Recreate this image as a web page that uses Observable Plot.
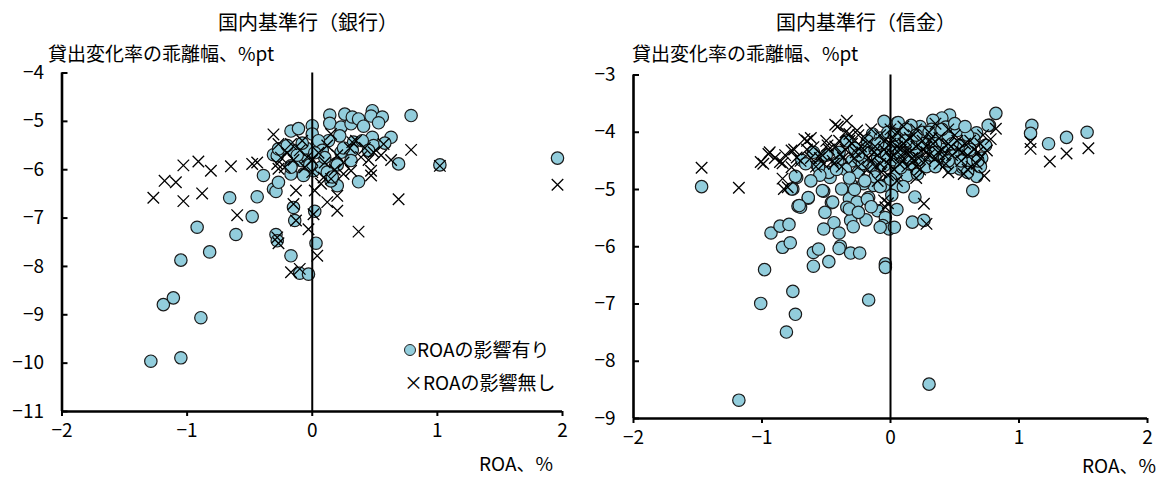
<!DOCTYPE html>
<html><head><meta charset="utf-8">
<script src="https://cdn.jsdelivr.net/npm/d3@7"></script>
<script src="https://cdn.jsdelivr.net/npm/@observablehq/plot@0.6"></script>
<style>
body{margin:0;background:#fff;}
#wrap{position:relative;width:1159px;height:477px;font-family:"Noto Sans CJK JP",sans-serif;color:#000;overflow:hidden;}
.abs{position:absolute;white-space:nowrap;line-height:1;}
.panel{position:absolute;top:0;}
.lg{display:inline-block;width:10px;height:10px;border-radius:50%;background:#92CDDC;border:1px solid #222;vertical-align:middle;margin-right:1px;position:relative;top:-2px;}
</style></head>
<body><div id="wrap"></div>
<script>
// ---- data ----
const titles = ["国内基準行（銀行）", "国内基準行（信金）"];
const yLabel = "貸出変化率の乖離幅、%pt";
const xLabel = "ROA、%";
const seriesNames = ["ROAの影響有り", "ROAの影響無し"];
const xTicks = [-2, -1, 0, 1, 2];
const yTicksBank = [-11, -10, -9, -8, -7, -6, -5, -4];
const yTicksShinkin = [-9, -8, -7, -6, -5, -4, -3];

// 国内基準行（銀行）: ROAの影響有り [ROA, 乖離幅]
const bankWith = [
[-1.29,-9.96],[-1.05,-9.89],[-0.89,-9.06],[-1.19,-8.79],[-1.11,-8.65],[-1.05,-7.87],[-0.92,-7.19],[-0.82,-7.70],[-0.66,-6.58],[-0.61,-7.34],[-0.48,-6.97],[-0.44,-6.56],[-0.39,-6.12],[-0.31,-6.40],[-0.29,-6.45],[-0.27,-6.26],[-0.29,-7.34],[-0.28,-7.47],[-0.17,-7.78],[-0.15,-6.78],[-0.14,-7.05],[-0.10,-8.14],[-0.03,-8.16],[0.02,-6.86],[0.03,-7.52],
[-0.17,-5.20],[-0.11,-5.15],[0.00,-5.09],[0.00,-5.26],[-0.31,-5.69],[-0.25,-5.60],[-0.28,-5.71],[-0.27,-5.57],[-0.17,-5.92],[-0.17,-6.09],[-0.09,-5.81],[-0.04,-5.74],[-0.07,-6.09],[0.01,-6.02],[0.04,-5.47],[-0.15,-5.60],[-0.07,-6.12],[-0.17,-5.95],
[0.14,-4.87],[0.26,-4.85],[0.14,-5.04],[0.23,-5.12],[0.31,-5.05],[0.32,-4.91],[0.37,-4.95],[0.41,-5.10],[0.48,-4.78],[0.47,-4.89],[0.56,-4.91],[0.53,-5.03],[0.79,-4.88],[0.63,-5.33],[0.48,-5.33],[0.49,-5.50],[0.33,-5.43],[0.32,-5.60],[0.23,-5.64],[0.13,-5.40],[0.05,-5.40],[0.69,-5.88],[1.02,-5.90],[1.96,-5.76],[0.37,-6.25],[0.20,-6.33],[0.15,-6.23],[0.07,-5.95],[0.31,-5.81],[0.19,-5.88],
[-0.05,-5.55],[0.08,-5.60],[0.10,-5.75],[-0.12,-5.70],[0.20,-5.90],[0.12,-6.05],[-0.02,-5.90],[0.25,-5.55],[-0.20,-5.50],[0.16,-6.15],[0.02,-5.65],[-0.08,-5.45],[0.22,-5.30],[0.40,-5.40],[0.45,-5.60],[0.58,-5.45]
];
// 国内基準行（銀行）: ROAの影響無し
const bankWithout = [
[-1.27,-6.58],[-1.18,-6.23],[-1.09,-6.26],[-1.03,-5.91],[-0.91,-5.83],[-0.81,-6.02],[-1.03,-6.65],[-0.88,-6.49],[-0.65,-5.93],[-0.48,-5.88],[-0.44,-5.85],[-0.60,-6.94],[-0.31,-5.27],[-0.27,-5.47],[-0.13,-6.43],[-0.15,-6.71],[-0.13,-7.05],[-0.28,-7.40],[-0.27,-7.52],[-0.17,-8.12],[-0.10,-8.05],[-0.03,-7.23],[0.02,-6.43],[-0.27,-5.98],[0.01,-6.92],[0.04,-7.78],
[0.12,-6.67],[0.20,-6.85],[0.20,-6.54],[0.37,-7.28],[0.69,-6.61],[0.79,-5.59],[0.63,-5.80],[0.47,-6.02],[0.47,-6.12],[1.02,-5.92],[1.96,-6.31],[0.57,-5.47],[0.49,-5.64],[0.39,-5.74],[0.31,-6.02],[0.25,-6.09],[0.15,-6.19],[0.09,-6.16],[0.07,-6.29],[0.15,-5.26],[-0.17,-5.47],[-0.28,-5.88],[-0.04,-5.74],[0.32,-5.43],
[-0.20,-5.65],[-0.10,-5.60],[0.00,-5.80],[0.05,-5.65],[-0.06,-5.95],[0.10,-5.85],[-0.15,-5.80],[0.20,-5.70],[0.30,-5.55],[0.35,-5.40],[0.42,-5.55],[-0.25,-5.75],[0.12,-5.50],[-0.08,-5.40],[0.00,-6.05],[0.25,-5.85],[-0.22,-5.95],[0.18,-6.00],[0.45,-5.80],[0.55,-5.70]
];
// 国内基準行（信金）: ROAの影響有り
const shinkinWith = [
[-1.47,-4.95],[-1.18,-8.68],[0.30,-8.40],[-0.81,-7.49],[-0.74,-7.18],[-1.01,-6.99],[-0.76,-6.78],[-0.98,-6.40],[-0.17,-6.93],
[-0.04,-6.30],[-0.04,-6.36],[-0.93,-5.76],[-0.86,-5.64],[-0.79,-5.61],[-0.84,-6.01],[-0.78,-5.93],[-0.72,-5.29],[-0.70,-5.31],[-0.64,-5.15],
[-0.76,-4.99],[-0.73,-4.79],[-0.52,-5.03],[-0.46,-5.23],[-0.51,-5.40],[-0.44,-5.58],[-0.52,-5.69],[-0.40,-5.76],[-0.39,-5.99],[-0.40,-6.03],
[-0.60,-6.10],[-0.56,-6.04],[-0.48,-6.26],[-0.60,-6.34],[-0.31,-6.11],[-0.24,-6.11],[-0.31,-5.54],[-0.29,-5.65],[-0.19,-5.53],
[-0.32,-5.16],[-0.34,-5.31],[-0.26,-5.22],[-0.31,-4.90],[-0.47,-4.79],[-0.38,-4.99],[-0.17,-5.14],[-0.05,-4.93],[-0.10,-5.37],
[-0.04,-5.49],[-0.06,-5.63],[-0.01,-5.69],[0.03,-5.66],[-0.08,-5.66],[0.05,-4.93],[0.01,-5.10],[-0.05,-3.81],[0.05,-3.84],
[-0.34,-4.15],[-0.14,-4.03],[-0.69,-4.49],[-0.57,-4.58],[-0.48,-4.70],[-0.66,-4.55],[-0.56,-4.61],[-0.41,-4.52],[-0.22,-4.47],
[0.17,-5.57],[0.26,-5.54],[0.19,-5.13],[0.64,-5.02],[-0.13,-4.93],[-0.21,-4.90],[-0.32,-5.34],[-0.18,-5.17],[-0.45,-5.22],
[-0.53,-5.02],[-0.64,-5.14],[-0.71,-5.28],[-0.77,-4.99],[-0.74,-4.77],
[0.82,-3.67],[1.10,-3.88],[1.09,-4.02],[1.23,-4.20],[1.37,-4.09],[1.53,-4.00],[0.77,-3.88],[0.67,-4.01],[0.65,-4.12],[0.71,-4.45],[0.67,-4.77],[0.54,-4.64],[0.56,-4.61],
[0.46,-3.70],[0.40,-3.75],[0.33,-3.79],[0.23,-3.90],[0.16,-3.88],[0.06,-3.83],[0.52,-3.97],[0.36,-4.06],[0.43,-3.91],[0.54,-4.23],[0.62,-4.52],[0.74,-4.23],[0.76,-3.88],
[0.13,-4.26],[0.23,-4.12],[0.29,-4.52],[0.34,-4.41],[-0.05,-4.58],[0.05,-4.70],[0.13,-4.76],[0.21,-4.73],
[0.00,-4.30],[0.10,-4.40],[0.20,-4.35],[0.30,-4.25],[-0.10,-4.45],[-0.20,-4.30],[0.15,-4.55],[0.40,-4.30],[0.05,-4.15],[-0.05,-4.25],[0.25,-4.00],[0.35,-4.20],[0.45,-4.10],[0.50,-4.40],[-0.15,-4.60],[-0.25,-4.70],[0.10,-4.05],[0.18,-4.20],[-0.30,-4.50],[0.28,-4.60],[-0.08,-4.10],[0.02,-4.48],[0.38,-4.52],[0.47,-4.62],[-0.12,-4.78],[0.00,-4.82],[-0.28,-4.28],[-0.40,-4.35],[-0.50,-4.40],[-0.60,-4.35],[-0.35,-4.65],[0.58,-4.35],[0.60,-4.05],[0.70,-4.60],[0.32,-3.95],[0.12,-3.95],[-0.02,-4.00],[-0.18,-4.15],[0.08,-4.62],[0.22,-4.48],
[0.07,-4.35],[0.15,-4.45],[0.25,-4.20],[0.35,-4.35],[0.42,-4.45],[0.48,-4.20],[0.55,-4.50],[0.62,-4.30],[0.68,-4.50],[-0.03,-4.40],[-0.12,-4.30],[-0.22,-4.55],[-0.32,-4.80],[-0.42,-4.65],[-0.55,-4.75],[-0.62,-4.85],[-0.28,-5.00],[-0.20,-4.85],[-0.08,-4.95],[0.10,-4.95],[0.05,-5.35],[-0.15,-5.30],[-0.25,-5.40],[0.12,-4.15],[0.30,-4.00],[0.40,-3.95],[0.50,-3.85],[0.58,-3.90],[0.20,-4.05],[0.03,-4.05],[-0.10,-4.20],[-0.25,-4.40],[0.35,-4.60],[0.45,-4.50],[0.60,-4.70]
];
// 国内基準行（信金）: ROAの影響無し
const shinkinWithout = [
[-1.47,-4.62],[-1.18,-4.97],[-1.01,-4.52],[-0.94,-4.35],[-0.99,-4.55],[-0.95,-4.38],[-0.84,-4.54],[-0.84,-4.81],[-0.83,-4.99],[-0.80,-4.96],[-0.86,-4.52],
[-0.77,-4.32],[-0.77,-4.61],[-0.73,-4.44],[-0.75,-4.30],[-0.67,-4.12],[-0.65,-4.15],[-0.62,-4.10],[-0.60,-4.26],[-0.54,-4.38],[-0.49,-4.23],
[-0.43,-3.87],[-0.41,-3.90],[-0.34,-3.80],[-0.32,-4.03],[-0.26,-3.97],[-0.18,-4.20],[-0.39,-4.38],[-0.44,-4.55],
[-0.05,-5.19],[-0.04,-5.31],[-0.02,-5.24],[0.26,-5.25],[0.28,-5.60],
[0.82,-3.94],[1.09,-4.17],[1.09,-4.29],[1.24,-4.51],[1.37,-4.37],[1.54,-4.28],[0.73,-4.76],[0.57,-4.73],[0.78,-4.12],[0.75,-4.32],[0.67,-4.55],
[-0.55,-4.45],[-0.48,-4.30],[-0.40,-4.15],[-0.35,-4.30],[-0.30,-4.20],[-0.28,-4.45],[-0.22,-4.35],[-0.20,-4.10],[-0.15,-4.50],[-0.12,-4.25],[-0.10,-4.40],[-0.08,-4.05],[-0.05,-4.30],[-0.02,-4.55],[0.00,-4.20],[0.02,-4.40],[0.05,-4.00],[0.08,-4.30],[0.10,-4.50],[0.12,-4.15],[0.15,-4.35],[0.18,-4.05],[0.20,-4.25],[0.22,-4.45],[0.25,-4.15],[0.28,-4.35],[0.30,-4.00],[0.33,-4.20],[0.35,-4.45],[0.38,-4.10],[0.40,-4.30],[0.43,-4.55],[0.45,-4.20],[0.48,-4.40],[0.50,-4.05],[0.53,-4.30],[0.55,-4.50],[0.58,-4.20],[0.60,-4.40],[0.63,-4.60],[0.65,-4.30],
[-0.58,-4.60],[-0.45,-4.50],[-0.38,-4.60],[-0.25,-4.60],[-0.18,-4.65],[-0.07,-4.70],[0.03,-4.65],[0.13,-4.60],[0.23,-4.65],[-0.35,-4.00],[-0.25,-4.05],[-0.15,-3.95],[0.00,-3.95],[0.10,-3.90],[0.20,-3.95],[0.35,-3.85],[0.45,-3.95],[-0.70,-4.50],[-0.65,-4.30],[-0.90,-4.45],[-0.82,-4.40],[-0.10,-4.85],[0.05,-4.85],[0.20,-4.80],[0.45,-4.70],[0.60,-4.65],[0.70,-4.45],[0.70,-4.20],
[-0.05,-4.15],[0.00,-4.45],[0.05,-4.25],[0.07,-4.55],[0.10,-4.20],[0.12,-4.35],[0.15,-4.10],[0.17,-4.45],[0.20,-4.60],[0.25,-4.30],[0.27,-4.50],[0.30,-4.40],[0.32,-4.10],[0.37,-4.35],[0.42,-4.40],[0.47,-4.25],[0.52,-4.15],[0.56,-4.35],[-0.03,-4.35],[-0.08,-4.55],[-0.13,-4.35],[-0.17,-4.45],[-0.23,-4.25],[-0.27,-4.35],[-0.32,-4.15],[-0.37,-4.45],[-0.43,-4.25],[-0.50,-4.15],[-0.52,-4.55],[-0.62,-4.45],[0.68,-4.35],[0.72,-4.05],[0.62,-4.15],[0.02,-4.10],[0.08,-4.40],[0.18,-4.50],[0.28,-4.25],[0.38,-4.55],[-0.12,-4.60],[-0.02,-4.75]
];

// ---- drawing ----
const FILL = "#92CDDC";
const FONT = '"Noto Sans CJK JP", sans-serif';
const wrap = document.getElementById("wrap");

function panel(withData, withoutData, yTicks, opts) {
  const yDomain = [d3.min(yTicks), d3.max(yTicks)];
  const fmt = d => d3.format("d")(d);
  const frameW = opts.width - opts.ml - opts.mr;
  const tickLen = 6;
  return Plot.plot({
    width: opts.width, height: 477,
    marginLeft: opts.ml, marginRight: opts.mr, marginTop: opts.mt, marginBottom: opts.mb,
    x: {domain: [-2, 2]},
    y: {domain: yDomain},
    style: {fontSize: "19px", fontFamily: FONT, color: "#000", background: "transparent", overflow: "visible"},
    marks: [
      Plot.dot(withData, {x: d => d[0], y: d => d[1], r: 6.2, fill: FILL, stroke: "#1a1a1a", strokeWidth: 1.2}),
      Plot.ruleX([0], {stroke: "#000", strokeWidth: 2}),
      Plot.dot(withoutData, {x: d => d[0], y: d => d[1], symbol: "times", r: 5.3, stroke: "#000", strokeWidth: 1.3}),
      Plot.ruleX([-2], {stroke: "#000", strokeWidth: 2.6}),
      Plot.ruleY([yDomain[0]], {stroke: "#000", strokeWidth: 2.6}),
      // inward tick marks on the y axis
      Plot.tickY(yTicks, {y: d => d, stroke: "#000", strokeWidth: 2, insetRight: frameW - tickLen}),
      Plot.axisY({ticks: yTicks, tickSize: 0, tickPadding: 18, tickFormat: fmt, label: null}),
      Plot.axisX({ticks: xTicks, tickSize: 5, tickPadding: 7, strokeWidth: 2, tickFormat: fmt, label: null})
    ]
  });
}

const left = panel(bankWith, bankWithout, yTicksBank, {width: 580, ml: 61.5, mr: 18, mt: 72.5, mb: 66});
left.classList.add("panel"); left.style.left = "0px";
wrap.appendChild(left);
const right = panel(shinkinWith, shinkinWithout, yTicksShinkin, {width: 579, ml: 53, mr: 12, mt: 74.5, mb: 59});
right.classList.add("panel"); right.style.left = "580px";
wrap.appendChild(right);

function addText(txt, css) {
  const d = document.createElement("div");
  d.className = "abs";
  d.textContent = txt;
  Object.assign(d.style, css);
  wrap.appendChild(d);
  return d;
}
addText(titles[0], {left: "308px", top: "12px", transform: "translateX(-50%)", fontSize: "20px"});
addText(titles[1], {left: "866px", top: "12px", transform: "translateX(-50%)", fontSize: "20px"});
addText(yLabel, {left: "48px", top: "43px", fontSize: "19px"});
addText(yLabel, {left: "632px", top: "43px", fontSize: "19px"});
addText(xLabel, {right: "606px", top: "453px", fontSize: "19px"});
addText(xLabel, {right: "3px", top: "455px", fontSize: "19px"});

const l1 = document.createElement("div");
l1.className = "abs";
Object.assign(l1.style, {left: "404px", top: "339px", fontSize: "19px"});
const dotSpan = document.createElement("span"); dotSpan.className = "lg";
l1.appendChild(dotSpan);
l1.appendChild(document.createTextNode(seriesNames[0]));
wrap.appendChild(l1);
addText("×" + seriesNames[1], {left: "404px", top: "372px", fontSize: "19px"});
</script></body></html>
